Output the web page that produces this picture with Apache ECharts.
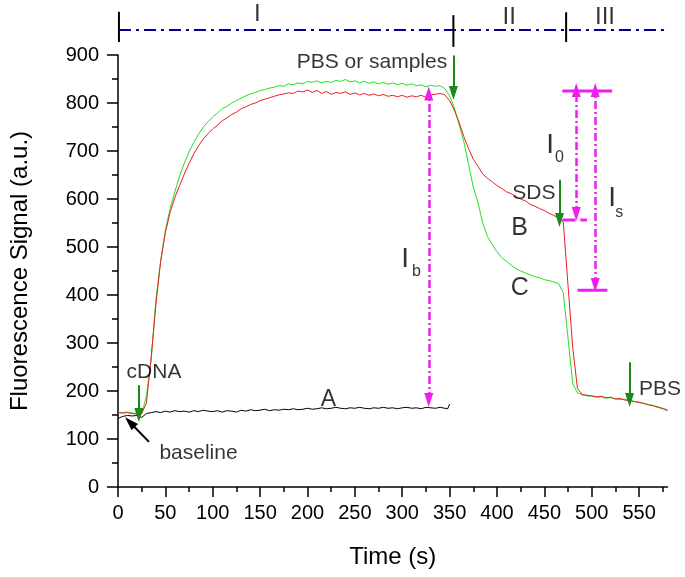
<!DOCTYPE html>
<html><head><meta charset="utf-8">
<script src="https://cdn.jsdelivr.net/npm/echarts@6/dist/echarts.min.js"></script>
<style>html,body{margin:0;padding:0;background:#fff}#c{width:685px;height:577px}</style>
</head><body><div id="c"></div>
<script>
// ---- data ----
const time = [0,5,10,15,20,25,30,35,40,45,50,55,60,65,70,75,80,85,90,95,100,105,110,115,120,125,130,135,140,145,150,155,160,165,170,175,180,185,190,195,200,205,210,215,220,225,230,235,240,245,250,255,260,265,270,275,280,285,290,295,300,305,310,315,320,325,330,335,340,345,350,355,360,365,370,375,380,385,390,395,400,405,410,415,420,425,430,435,440,445,450,455,460,465,470,475,480,485,490,495,500,505,510,515,520,525,530,535,540,545,550,555,560,565,570,575,580];
const curveB = [155,154,155,153,152,153,175,270,380,470,530,572,603,628,652,674,694,711,725,736,746,754,763,769,776,781,788,792,797,800,805,808,811,814,817,819,821,820,825,823,827,822,826,820,824,818,822,820,823,818,821,817,820,816,819,815,818,814,816,813,816,812,815,813,816,812,817,818,820,817,805,785,760,730,705,683,668,652,643,636,628,622,615,611,605,600,596,589,585,580,576,570,566,560,552,420,290,205,193,191,190,188,189,186,187,183,185,181,180,178,176,174,171,169,166,163,159];
const curveC = [156,155,156,154,153,152,190,265,390,470,535,580,615,648,675,698,718,735,750,761,771,779,788,793,800,805,810,815,819,822,826,828,831,833,836,835,840,838,842,840,845,843,846,842,845,843,847,845,849,844,846,842,845,841,844,840,843,839,842,838,841,837,840,836,838,834,837,835,836,830,815,790,755,720,672,625,592,550,522,505,490,478,470,462,455,450,446,442,438,436,432,430,427,424,405,310,215,196,192,190,189,187,188,185,186,184,182,183,181,178,177,174,172,170,167,164,161];
const timeA = [0,5,10,15,20,25,30,35,40,45,50,55,60,65,70,75,80,85,90,95,100,105,110,115,120,125,130,135,140,145,150,155,160,165,170,175,180,185,190,195,200,205,210,215,220,225,230,235,240,245,250,255,260,265,270,275,280,285,290,295,300,305,310,315,320,325,330,335,340,345,348,350];
const curveA = [143,147,149,148,149,145,153,155,157,155,158,156,159,157,158,156,159,157,160,158,157,159,156,159,158,156,160,158,161,159,160,162,159,161,160,162,161,163,161,162,164,162,163,165,163,164,166,164,163,165,164,166,164,163,165,164,166,164,165,163,165,166,164,165,163,166,165,164,166,164,163,173];
const xMajorStep = 50;   // labelled ticks
const xMinorStep = 25;   // minor ticks
const phaseNames = ['I','II','III'];
const phaseBounds = [1,354,473,590];

// ---- styling / annotation layout ----
const FONT = '"Liberation Sans", Arial, sans-serif';
const GREEN = '#1b8a1b', MAG = '#ee1fee', NAVY = '#00008b';
const DASHDOT = [8,3,2,3];
const NAVYDASH = [12,5,3,5];

const texts = [
  {text: phaseNames[0], t:147, v:984, size:24},
  {text: phaseNames[1], t:413, v:979, size:24},
  {text: phaseNames[2], t:514, v:979, size:24},
  {text:'PBS or samples', t:268, v:886, size:21},
  {text:'cDNA', t:38, v:240, size:21},
  {text:'baseline', t:85, v:71, size:21},
  {text:'A', t:222, v:181, size:23},
  {text:'B', t:424, v:540, size:25},
  {text:'C', t:424, v:414, size:25},
  {text:'SDS', t:439, v:612, size:21},
  {text:'PBS', t:572, v:204, size:21},
  {text:'I', t:303, v:475, size:28},
  {text:'b', t:315, v:448, size:16},
  {text:'I', t:456, v:712, size:28},
  {text:'0', t:466, v:687, size:16},
  {text:'I', t:521.5, v:602, size:28},
  {text:'s', t:529, v:571, size:16}
];

function seg(pts, color, width, type, clip) {
  return {type:'line', data:pts, symbol:'none', silent:true, clip: clip !== false,
    lineStyle:{color:color, width:width, type:type||'solid'}, z:5};
}
function arrow(t1,v1,t2,v2,color,width,type,both){
  return [
    {coord:[t1,v1], symbol: both ? 'triangle' : 'none', lineStyle:{color:color,width:width,type:type||'solid'}},
    {coord:[t2,v2], symbol:'triangle'}
  ];
}

const series = [
  {type:'line', name:'A', data: timeA.map((t,i)=>[t,curveA[i]]), symbol:'none', lineStyle:{color:'#000',width:1}, z:3,
   markLine:{silent:true, animation:false, symbolSize:[9,14], label:{show:false}, emphasis:{disabled:true},
     data:[
       arrow(354,899,354,821,GREEN,2),
       arrow(22,212,22,150,GREEN,2),
       arrow(466,640,466,556,GREEN,2),
       arrow(540,260,540,181,GREEN,2),
       arrow(32.7,94,12.6,135,'#000',2),
       arrow(328,181,328,820,MAG,2.5,DASHDOT,true),
       arrow(483.7,569,483.7,827,MAG,2.5,DASHDOT,true),
       arrow(503.7,421,503.7,827,MAG,2.5,DASHDOT,true)
     ]}},
  {type:'line', name:'B', data: time.map((t,i)=>[t,curveB[i]]), symbol:'none', lineStyle:{color:'#e82020',width:1}, z:4},
  {type:'line', name:'C', data: time.map((t,i)=>[t,curveC[i]]), symbol:'none', lineStyle:{color:'#22e022',width:1}, z:3},
  seg([[phaseBounds[0],952],[phaseBounds[3],952]], NAVY, 2, NAVYDASH, false),
  seg([[phaseBounds[0],990],[phaseBounds[0],927]], '#000', 2, 'solid', false),
  seg([[phaseBounds[1],983],[phaseBounds[1],917]], '#000', 2, 'solid', false),
  seg([[phaseBounds[2],989],[phaseBounds[2],927]], '#000', 2, 'solid', false),
  seg([[phaseBounds[3],983],[phaseBounds[3],917]], '#000', 2, 'solid', false),
  seg([[469,825],[521.6,825]], MAG, 3),
  seg([[469,556],[483,556]], MAG, 3),
  seg([[488,556],[495,556]], MAG, 3),
  seg([[485,410],[516.6,410]], MAG, 3),
  {type:'scatter', clip:false, silent:true, symbolSize:1, itemStyle:{color:'transparent'}, z:10,
   data: texts.map(o=>({value:[o.t,o.v], label:{show:true, position:'inside', formatter:o.text,
     fontSize:o.size, color:'#000', fontFamily:FONT}}))}
];

const axisLineStyle = {color:'#000', width:1.5};
const isMajor = (i,v) => Number(v) % xMajorStep === 0;
const isMinor = (i,v) => Number(v) % xMajorStep === xMinorStep;
const option = {
  animation:false,
  backgroundColor:'#fff',
  grid:{left:117, right:17.5, top:55, bottom:90, containLabel:false},
  xAxis:[
    {type:'value', min:time[0], max:time[time.length-1],
     axisLine:{show:true, onZero:false, lineStyle:axisLineStyle},
     axisTick:{show:false}, axisLabel:{show:false}, splitLine:{show:false},
     name:'Time (s)', nameLocation:'middle', nameGap:58,
     nameTextStyle:{fontSize:24, color:'#000', fontFamily:FONT}},
    {type:'category', data:time.map(String), boundaryGap:false, position:'bottom',
     axisLine:{show:false},
     axisTick:{show:true, length:10, interval:isMajor, lineStyle:axisLineStyle},
     axisLabel:{interval:isMajor, fontSize:20, color:'#000', margin:16, fontFamily:FONT},
     splitLine:{show:false}},
    {type:'category', data:time.map(String), boundaryGap:false, position:'bottom',
     axisLine:{show:false},
     axisTick:{show:true, length:5, interval:isMinor, lineStyle:axisLineStyle},
     axisLabel:{show:false}, splitLine:{show:false}}
  ],
  yAxis:{type:'value', min:0, max:900, interval:100,
     axisLine:{show:true, lineStyle:axisLineStyle},
     axisTick:{show:true, length:11, lineStyle:axisLineStyle},
     minorTick:{show:true, splitNumber:2, length:6, lineStyle:axisLineStyle},
     axisLabel:{fontSize:20, color:'#000', margin:19, fontFamily:FONT},
     splitLine:{show:false}, minorSplitLine:{show:false},
     name:'Fluorescence Signal (a.u.)', nameLocation:'middle', nameGap:86,
     nameTextStyle:{fontSize:24, color:'#000', fontFamily:FONT}},
  series: series
};
const chart = echarts.init(document.getElementById('c'));
chart.setOption(option);
</script></body></html>
